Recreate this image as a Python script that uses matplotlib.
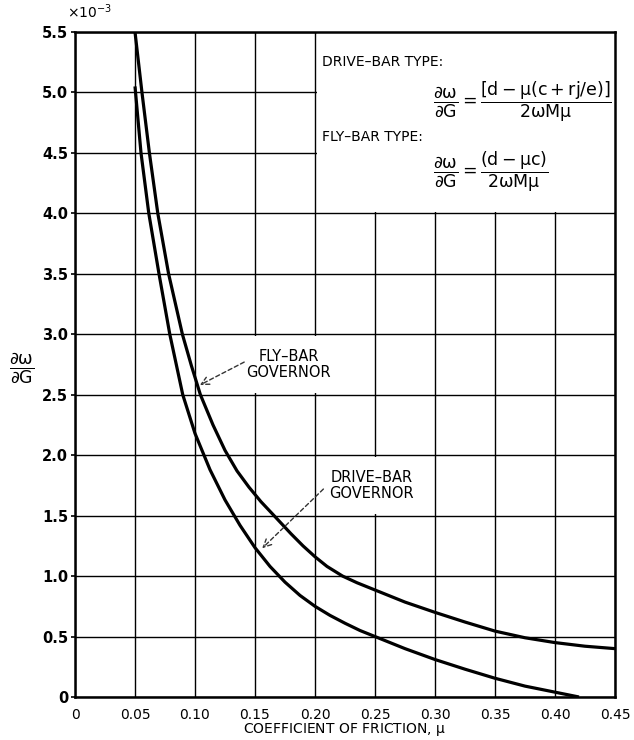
import matplotlib
matplotlib.use("Agg")
import matplotlib.pyplot as plt
from matplotlib.patches import Rectangle

plt.rcParams['font.family'] = ['DejaVu Sans']
plt.rcParams['mathtext.fontset'] = 'dejavusans'
plt.rcParams['mathtext.default'] = 'regular'

# ---- data ----
fly_mu = [0.05, 0.0558, 0.062, 0.069, 0.078, 0.0895, 0.097, 0.1045, 0.115, 0.125, 0.135,
          0.145, 0.155, 0.164, 0.18, 0.19, 0.20, 0.21, 0.223, 0.235, 0.25, 0.275, 0.30,
          0.325, 0.35, 0.375, 0.40, 0.425, 0.45]
fly_val = [5.5, 5.0, 4.5, 4.0, 3.5, 3.0, 2.74, 2.5, 2.25, 2.04, 1.87,
           1.735, 1.615, 1.52, 1.35, 1.25, 1.16, 1.08, 1.0, 0.945, 0.885, 0.785, 0.70,
           0.62, 0.545, 0.49, 0.45, 0.42, 0.40]

drive_mu = [0.05, 0.055, 0.0615, 0.070, 0.079, 0.0898, 0.10, 0.1125, 0.125, 0.1375, 0.15,
            0.1625, 0.175, 0.1875, 0.20, 0.2125, 0.225, 0.2375, 0.25, 0.275, 0.30,
            0.325, 0.35, 0.375, 0.40, 0.42]
drive_val = [5.05, 4.5, 4.0, 3.5, 3.0, 2.5, 2.18, 1.88, 1.63, 1.42, 1.235,
             1.08, 0.95, 0.84, 0.75, 0.675, 0.61, 0.55, 0.50, 0.40, 0.31,
             0.23, 0.155, 0.09, 0.04, 0.0]

x_ticks = [0, 0.05, 0.10, 0.15, 0.20, 0.25, 0.30, 0.35, 0.40, 0.45]
x_labels = ["0", "0.05", "0.10", "0.15", "0.20", "0.25", "0.30", "0.35", "0.40", "0.45"]
y_ticks = [0, 0.5, 1.0, 1.5, 2.0, 2.5, 3.0, 3.5, 4.0, 4.5, 5.0, 5.5]
y_labels = ["0", "0.5", "1.0", "1.5", "2.0", "2.5", "3.0", "3.5", "4.0", "4.5", "5.0", "5.5"]

W, H = 634, 740
fig = plt.figure(figsize=(W / 100, H / 100), dpi=100)
ax = fig.add_axes([75 / W, 1 - 697 / H, 540 / W, 665 / H])

ax.set_xlim(0, 0.45)
ax.set_ylim(0, 5.5)
ax.set_xticks(x_ticks)
ax.set_xticklabels(x_labels, fontsize=10)
ax.set_yticks(y_ticks)
ax.set_yticklabels(y_labels, fontsize=10.5, fontweight='bold')
ax.tick_params(axis='x', length=0, pad=8)
ax.tick_params(axis='y', length=3, width=1.2, pad=2)
ax.set_axisbelow(True)
ax.grid(True, color='black', linewidth=1.0)
for s in ax.spines.values():
    s.set_linewidth(1.8)

# white boxes that interrupt the grid
ax.add_patch(Rectangle((0.2015, 4.015), 0.2485, 1.49, facecolor='white', edgecolor='none', zorder=1))
ax.add_patch(Rectangle((0.142, 2.512), 0.1065, 0.476, facecolor='white', edgecolor='none', zorder=1))
ax.add_patch(Rectangle((0.2015, 1.512), 0.0970, 0.476, facecolor='white', edgecolor='none', zorder=1))

ax.plot(fly_mu, fly_val, color='black', linewidth=2.3, zorder=3, solid_capstyle='butt',
        solid_joinstyle='round')
ax.plot(drive_mu, drive_val, color='black', linewidth=2.3, zorder=3, solid_capstyle='butt',
        solid_joinstyle='round')

# curve labels with dashed arrows
ax.text(0.178, 2.75, "FLY\u2013BAR\nGOVERNOR", ha='center', va='center', fontsize=10.5,
        linespacing=1.1, zorder=4)
ax.annotate("", xy=(0.104, 2.58), xytext=(0.141, 2.77),
            arrowprops=dict(arrowstyle='->', linestyle=(0, (3, 2)), lw=1.0, color='#333333',
                            mutation_scale=14, shrinkA=0, shrinkB=0), zorder=4)
ax.text(0.247, 1.75, "DRIVE\u2013BAR\nGOVERNOR", ha='center', va='center', fontsize=10.5,
        linespacing=1.1, zorder=4)
ax.annotate("", xy=(0.156, 1.23), xytext=(0.207, 1.72),
            arrowprops=dict(arrowstyle='->', linestyle=(0, (3, 2)), lw=1.0, color='#333333',
                            mutation_scale=14, shrinkA=0, shrinkB=0), zorder=4)

# formulas
fig.text(322 / W, 1 - 62 / H, "DRIVE\u2013BAR TYPE:", ha='left', va='center', fontsize=10)
fig.text(612 / W, 1 - 102 / H,
         r"$\dfrac{\partial\omega}{\partial G}=\dfrac{\left[d-\mu(c+rj/e)\right]}{2\omega M\mu}$",
         ha='right', va='center', fontsize=12.5)
fig.text(322 / W, 1 - 137 / H, "FLY\u2013BAR TYPE:", ha='left', va='center', fontsize=10)
fig.text(433 / W, 1 - 172 / H,
         r"$\dfrac{\partial\omega}{\partial G}=\dfrac{(d-\mu c)}{2\omega M\mu}$",
         ha='left', va='center', fontsize=12.5)

# exponent marker and axis labels
fig.text(67 / W, 1 - 18 / H, r"$\times10^{-3}$", ha='left', va='baseline', fontsize=10)
fig.text(22 / W, 1 - 368 / H, r"$\dfrac{\partial\omega}{\partial G}$", ha='center', va='center',
         fontsize=12.5)
fig.text(345 / W, 1 - 730 / H, r"COEFFICIENT OF FRICTION, $\mu$", ha='center', va='center',
         fontsize=10)

fig.savefig("out.png", dpi=100, facecolor='white')
